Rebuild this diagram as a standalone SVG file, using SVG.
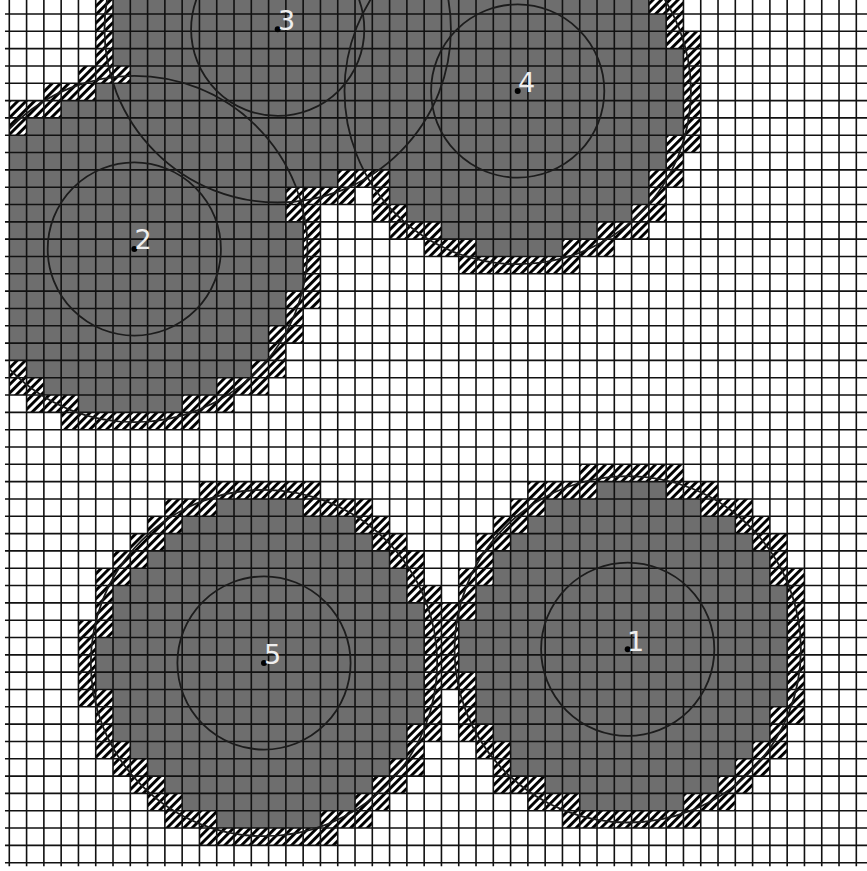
<svg xmlns="http://www.w3.org/2000/svg" width="867" height="871" viewBox="0 0 867 871">
<style>
.ring{fill:none;stroke:#1c1c1c;stroke-width:1.8}
.dot{fill:#000}
.lab{fill:#eee;font-family:"DejaVu Sans",sans-serif;font-size:27px}
.grid{fill:none;stroke:#111;stroke-width:1.6;vector-effect:non-scaling-stroke}
</style>
<defs>
<pattern id="hatch" patternUnits="userSpaceOnUse" width="5.9" height="5.9" patternTransform="rotate(45)">
<rect width="5.9" height="5.9" fill="#fff"/>
<rect width="2.9" height="5.9" fill="#000"/>
</pattern>
<clipPath id="plot"><rect x="9.3" y="0" width="858" height="871"/></clipPath>
<clipPath id="hatched"><path transform="translate(9.3 14) scale(17.286 17.32)" d="
M5 -1H6V0H5ZM37 -1H39V0H37Z
M5 0H6V1H5ZM38 0H39V1H38Z
M5 1H6V2H5ZM38 1H40V2H38Z
M5 2H6V3H5ZM39 2H40V3H39Z
M4 3H7V4H4ZM39 3H40V4H39Z
M2 4H5V5H2ZM39 4H40V5H39Z
M0 5H3V6H0ZM39 5H40V6H39Z
M0 6H1V7H0ZM39 6H40V7H39Z
M38 7H40V8H38Z
M38 8H39V9H38Z
M19 9H22V10H19ZM37 9H39V10H37Z
M16 10H20V11H16ZM21 10H22V11H21ZM37 10H38V11H37Z
M16 11H18V12H16ZM21 11H23V12H21ZM36 11H38V12H36Z
M17 12H18V13H17ZM22 12H25V13H22ZM34 12H37V13H34Z
M17 13H18V14H17ZM24 13H27V14H24ZM32 13H35V14H32Z
M17 14H18V15H17ZM26 14H33V15H26Z
M17 15H18V16H17Z
M16 16H18V17H16Z
M16 17H17V18H16Z
M15 18H17V19H15Z
M15 19H16V20H15Z
M0 20H1V21H0ZM14 20H16V21H14Z
M0 21H2V22H0ZM12 21H15V22H12Z
M1 22H4V23H1ZM10 22H13V23H10Z
M3 23H11V24H3Z
M33 26H39V27H33Z
M11 27H18V28H11ZM30 27H34V28H30ZM38 27H41V28H38Z
M9 28H12V29H9ZM17 28H21V29H17ZM29 28H31V29H29ZM40 28H43V29H40Z
M8 29H10V30H8ZM20 29H22V30H20ZM28 29H30V30H28ZM42 29H44V30H42Z
M7 30H9V31H7ZM21 30H23V31H21ZM27 30H29V31H27ZM43 30H45V31H43Z
M6 31H8V32H6ZM22 31H24V32H22ZM27 31H28V32H27ZM44 31H45V32H44Z
M5 32H7V33H5ZM23 32H24V33H23ZM26 32H28V33H26ZM44 32H46V33H44Z
M5 33H6V34H5ZM23 33H25V34H23ZM26 33H27V34H26ZM45 33H46V34H45Z
M5 34H6V35H5ZM24 34H27V35H24ZM45 34H46V35H45Z
M4 35H6V36H4ZM24 35H26V36H24ZM45 35H46V36H45Z
M4 36H5V37H4ZM24 36H26V37H24ZM45 36H46V37H45Z
M4 37H5V38H4ZM24 37H26V38H24ZM45 37H46V38H45Z
M4 38H5V39H4ZM24 38H27V39H24ZM45 38H46V39H45Z
M4 39H6V40H4ZM24 39H25V40H24ZM26 39H27V40H26ZM45 39H46V40H45Z
M5 40H6V41H5ZM24 40H25V41H24ZM26 40H27V41H26ZM44 40H46V41H44Z
M5 41H6V42H5ZM23 41H25V42H23ZM26 41H28V42H26ZM44 41H45V42H44Z
M5 42H7V43H5ZM23 42H24V43H23ZM27 42H29V43H27ZM43 42H45V43H43Z
M6 43H8V44H6ZM22 43H24V44H22ZM28 43H29V44H28ZM42 43H44V44H42Z
M7 44H9V45H7ZM21 44H23V45H21ZM28 44H31V45H28ZM41 44H43V45H41Z
M8 45H10V46H8ZM20 45H22V46H20ZM30 45H33V46H30ZM39 45H42V46H39Z
M9 46H12V47H9ZM18 46H21V47H18ZM32 46H40V47H32Z
M11 47H19V48H11Z"/></clipPath>
</defs>
<rect width="867" height="871" fill="#fff"/>
<g id="occupied-cells" transform="translate(9.3 14) scale(17.286 17.32)" fill="#6e6e6e">
<path d="
M6 -1H37V0H6Z
M6 0H38V1H6Z
M6 1H38V2H6Z
M6 2H39V3H6Z
M7 3H39V4H7Z
M5 4H39V5H5Z
M3 5H39V6H3Z
M1 6H39V7H1Z
M0 7H38V8H0Z
M0 8H38V9H0Z
M0 9H19V10H0ZM22 9H37V10H22Z
M0 10H16V11H0ZM22 10H37V11H22Z
M0 11H16V12H0ZM23 11H36V12H23Z
M0 12H17V13H0ZM25 12H34V13H25Z
M0 13H17V14H0ZM27 13H32V14H27Z
M0 14H17V15H0Z
M0 15H17V16H0Z
M0 16H16V17H0Z
M0 17H16V18H0Z
M0 18H15V19H0Z
M0 19H15V20H0Z
M1 20H14V21H1Z
M2 21H12V22H2Z
M4 22H10V23H4Z
M34 27H38V28H34Z
M12 28H17V29H12ZM31 28H40V29H31Z
M10 29H20V30H10ZM30 29H42V30H30Z
M9 30H21V31H9ZM29 30H43V31H29Z
M8 31H22V32H8ZM28 31H44V32H28Z
M7 32H23V33H7ZM28 32H44V33H28Z
M6 33H23V34H6ZM27 33H45V34H27Z
M6 34H24V35H6ZM27 34H45V35H27Z
M6 35H24V36H6ZM26 35H45V36H26Z
M5 36H24V37H5ZM26 36H45V37H26Z
M5 37H24V38H5ZM26 37H45V38H26Z
M5 38H24V39H5ZM27 38H45V39H27Z
M6 39H24V40H6ZM27 39H45V40H27Z
M6 40H24V41H6ZM27 40H44V41H27Z
M6 41H23V42H6ZM28 41H44V42H28Z
M7 42H23V43H7ZM29 42H43V43H29Z
M8 43H22V44H8ZM29 43H42V44H29Z
M9 44H21V45H9ZM31 44H41V45H31Z
M10 45H20V46H10ZM33 45H39V46H33Z
M12 46H18V47H12Z"/>
</g>
<rect id="boundary-cells" width="867" height="871" fill="url(#hatch)" clip-path="url(#hatched)"/>
<g id="grid" transform="translate(9.3 14) scale(17.286 17.32)">
<path class="grid" d="
M0 -1V49.2M1 -1V49.2M2 -1V49.2M3 -1V49.2M4 -1V49.2M5 -1V49.2M6 -1V49.2M7 -1V49.2M8 -1V49.2M9 -1V49.2
M10 -1V49.2M11 -1V49.2M12 -1V49.2M13 -1V49.2M14 -1V49.2M15 -1V49.2M16 -1V49.2M17 -1V49.2M18 -1V49.2M19 -1V49.2
M20 -1V49.2M21 -1V49.2M22 -1V49.2M23 -1V49.2M24 -1V49.2M25 -1V49.2M26 -1V49.2M27 -1V49.2M28 -1V49.2M29 -1V49.2
M30 -1V49.2M31 -1V49.2M32 -1V49.2M33 -1V49.2M34 -1V49.2M35 -1V49.2M36 -1V49.2M37 -1V49.2M38 -1V49.2M39 -1V49.2
M40 -1V49.2M41 -1V49.2M42 -1V49.2M43 -1V49.2M44 -1V49.2M45 -1V49.2M46 -1V49.2M47 -1V49.2M48 -1V49.2M49 -1V49.2
M-.25 0H50M-.25 1H50M-.25 2H50M-.25 3H50M-.25 4H50M-.25 5H50M-.25 6H50M-.25 7H50M-.25 8H50M-.25 9H50
M-.25 10H50M-.25 11H50M-.25 12H50M-.25 13H50M-.25 14H50M-.25 15H50M-.25 16H50M-.25 17H50M-.25 18H50M-.25 19H50
M-.25 20H50M-.25 21H50M-.25 22H50M-.25 23H50M-.25 24H50M-.25 25H50M-.25 26H50M-.25 27H50M-.25 28H50M-.25 29H50
M-.25 30H50M-.25 31H50M-.25 32H50M-.25 33H50M-.25 34H50M-.25 35H50M-.25 36H50M-.25 37H50M-.25 38H50M-.25 39H50
M-.25 40H50M-.25 41H50M-.25 42H50M-.25 43H50M-.25 44H50M-.25 45H50M-.25 46H50M-.25 47H50M-.25 48H50M-.25 49H50"/>
</g>
<g id="nodes" clip-path="url(#plot)">
<g id="node-1"><circle class="ring" cx="627.7" cy="649.3" r="173.2"/><circle class="ring" cx="627.7" cy="649.3" r="86.6"/><circle class="dot" cx="627.7" cy="649.3" r="3"/><text class="lab" x="627" y="650.5">1</text></g>
<g id="node-2"><circle class="ring" cx="134.3" cy="249" r="173.2"/><circle class="ring" cx="134.3" cy="249" r="86.6"/><circle class="dot" cx="134.3" cy="249" r="3"/><text class="lab" x="134.5" y="249">2</text></g>
<g id="node-3"><circle class="ring" cx="277.7" cy="29.3" r="173.2"/><circle class="ring" cx="277.7" cy="29.3" r="86.6"/><circle class="dot" cx="277.7" cy="29.3" r="3"/><text class="lab" x="278" y="30">3</text></g>
<g id="node-4"><circle class="ring" cx="517.7" cy="91" r="173.2"/><circle class="ring" cx="517.7" cy="91" r="86.6"/><circle class="dot" cx="517.7" cy="91" r="3"/><text class="lab" x="518" y="91.5">4</text></g>
<g id="node-5"><circle class="ring" cx="264" cy="663" r="173.2"/><circle class="ring" cx="264" cy="663" r="86.6"/><circle class="dot" cx="264" cy="663" r="3"/><text class="lab" x="264" y="664">5</text></g>
</g>
</svg>
